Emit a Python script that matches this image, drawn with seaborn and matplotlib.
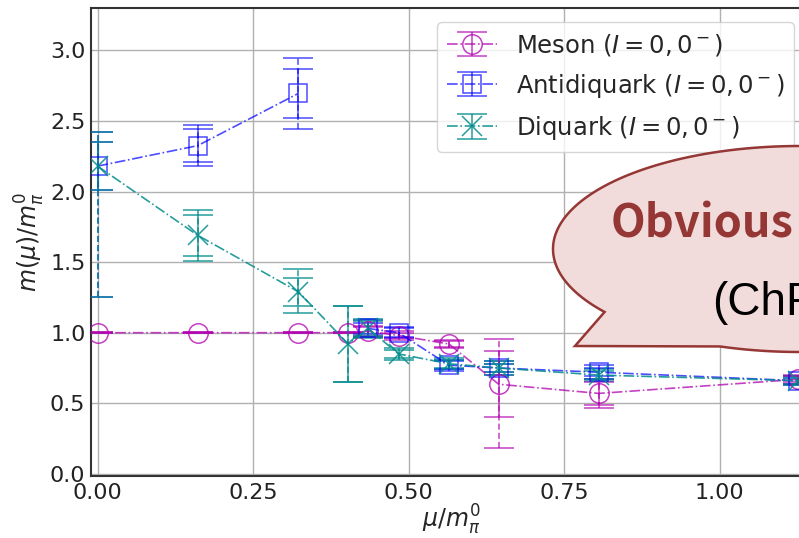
import numpy as np
import matplotlib
matplotlib.use("Agg")
import matplotlib.pyplot as plt
import matplotlib.patches as mpatches
import seaborn as sns

# ---- data ----
mu = [0.0, 0.161, 0.323, 0.403, 0.435, 0.484, 0.565, 0.645, 0.806, 1.127]

meson_y      = [1.00, 1.00, 1.00, 1.00, 1.01, 0.98, 0.92, 0.635, 0.57, 0.67]
meson_err1   = [0.005, 0.005, 0.005, 0.005, 0.03, 0.02, 0.02, 0.235, 0.08, 0.02]
meson_err2lo = [0.005, 0.005, 0.005, 0.005, 0.04, 0.03, 0.03, 0.45, 0.10, 0.03]
meson_err2hi = [0.005, 0.005, 0.005, 0.005, 0.04, 0.03, 0.03, 0.32, 0.10, 0.03]

anti_y      = [2.18, 2.325, 2.695, np.nan, 1.03, 1.00, 0.77, 0.75, 0.72, 0.66]
anti_err1   = [0.17, 0.115, 0.175, np.nan, 0.04, 0.03, 0.03, 0.03, 0.03, 0.02]
anti_err2lo = [0.93, 0.145, 0.25, np.nan, 0.06, 0.04, 0.04, 0.05, 0.05, 0.03]
anti_err2hi = [0.24, 0.145, 0.25, np.nan, 0.06, 0.04, 0.04, 0.05, 0.05, 0.03]

di_y      = [2.18, 1.69, 1.29, 0.92, 1.03, 0.85, 0.78, 0.75, 0.70, 0.66]
di_err1   = [0.17, 0.145, 0.10, 0.27, 0.05, 0.03, 0.03, 0.03, 0.03, 0.02]
di_err2lo = [0.93, 0.18, 0.15, 0.27, 0.07, 0.04, 0.04, 0.05, 0.04, 0.03]
di_err2hi = [0.24, 0.18, 0.16, 0.27, 0.07, 0.04, 0.04, 0.05, 0.04, 0.03]

labels = [r"Meson ($I=0,0^-$)", r"Antidiquark ($I=0,0^-$)", r"Diquark ($I=0,0^-$)"]
x_ticks = [0.00, 0.25, 0.50, 0.75, 1.00]
y_ticks = [0.0, 0.5, 1.0, 1.5, 2.0, 2.5, 3.0]

# ---- style ----
sns.set_theme(style="whitegrid")
plt.rcParams.update({
    "font.family": ["DejaVu Sans"],
    "axes.edgecolor": "#333333",
    "axes.linewidth": 1.5,
    "grid.color": "#b0b0b0",
    "grid.linewidth": 1.0,
    "xtick.direction": "in",
    "ytick.direction": "in",
    "mathtext.fontset": "dejavusans",
})

W, H = 799, 538
fig = plt.figure(figsize=(W / 100, H / 100), dpi=100)
left, right, top, bottom = 91, 811, 8, 476
ax = fig.add_axes([left / W, 1 - bottom / H, (right - left) / W, (bottom - top) / H])

series = [
    (meson_y, meson_err1, meson_err2lo, meson_err2hi, "#b000b0", "o", 14, 0.75),
    (anti_y, anti_err1, anti_err2lo, anti_err2hi, "#0000ff", "s", 13, 0.7),
    (di_y, di_err1, di_err2lo, di_err2hi, "#008b8b", "x", 15, 0.85),
]

handles = []
for (y, e1, e2lo, e2hi, c, m, ms, a), lab in zip(series, labels):
    eb2 = ax.errorbar(mu, y, yerr=[e2lo, e2hi], fmt="none", ecolor=c, elinewidth=1.1,
                      capsize=11, capthick=1.1, alpha=a, zorder=3)
    for lc in eb2[2]:
        lc.set_linestyle((0, (4, 2)))
    eb1 = ax.errorbar(mu, y, yerr=e1, fmt=m, linestyle="-.", color=c, ms=ms,
                      mfc="none", mec=c, mew=1.1, lw=1.2, elinewidth=1.1,
                      capsize=11, capthick=1.1, alpha=a, label=lab, zorder=4)
    handles.append(eb1)

ax.set_xticks(x_ticks)
ax.set_yticks(y_ticks)
ax.set_xticklabels([f"{v:.2f}" for v in x_ticks])
ax.set_yticklabels([f"{v:.1f}" for v in y_ticks])
ax.set_xlim(-0.0105, (right - 97.5) / 622)
ax.set_ylim(-0.015, 3.30)
ax.tick_params(axis="both", labelsize=16, length=4, width=1, color="#333333",
               labelcolor="#222222", pad=4)
ax.tick_params(axis="x", pad=5)
ax.set_xlabel(r"$\mu/m_\pi^0$", fontsize=17, labelpad=0)
ax.set_ylabel(r"$m(\mu)/m_\pi^0$", fontsize=17, labelpad=2)
ax.grid(True, color="#b0b0b0", linewidth=1.0)
for s in ax.spines.values():
    s.set_color("#333333")

leg = ax.legend(handles=handles, labels=labels, loc="upper left",
                bbox_to_anchor=(437 / W, 1 - 22 / H), bbox_transform=fig.transFigure,
                borderaxespad=0.0,
                fontsize=17.5, frameon=True, framealpha=0.8, edgecolor="#cccccc",
                fancybox=True, handlelength=2.05, handletextpad=0.8,
                borderpad=0.4, labelspacing=0.58)
leg.set_zorder(6)

# ---- speech bubble callout (figure pixel coordinates) ----
cx, cy, a_, b_ = 800.0, 249.0, 247.0, 103.0
base1 = (617.0, 308.0)
base2 = (727.0, 338.0)
tip = (575.0, 346.0)
t1 = np.degrees(np.arctan2((base1[1] - cy) / b_, (base1[0] - cx) / a_))
t2 = np.degrees(np.arctan2((base2[1] - cy) / b_, (base2[0] - cx) / a_)) + 360
ts = np.radians(np.linspace(t1, t2, 200))
pts = [(cx + a_ * np.cos(t), cy + b_ * np.sin(t)) for t in ts]
pts.append(tip)
pts_fig = [(px / W, 1 - py / H) for px, py in pts]
bubble = mpatches.Polygon(pts_fig, closed=True, transform=fig.transFigure,
                          facecolor="#f2dcdb", edgecolor="#953735", linewidth=1.8,
                          zorder=10)
fig.add_artist(bubble)

fig.text(611 / W, 1 - 238 / H, "Obvious", fontsize=32.5, fontweight="bold",
         color="#953735", family=["Noto Sans CJK JP", "DejaVu Sans"],
         va="baseline", ha="left", zorder=11)
fig.text(712 / W, 1 - 315 / H, "(ChP", fontsize=33, color="black",
         family=["Liberation Sans", "DejaVu Sans"], va="baseline", ha="left", zorder=11)

fig.savefig("out.png", dpi=100)
